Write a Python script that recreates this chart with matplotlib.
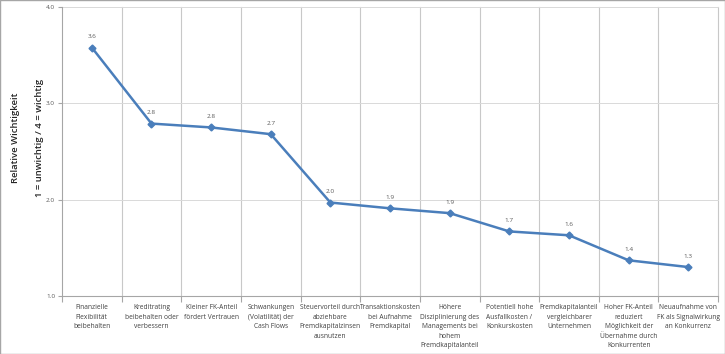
import numpy as np
import matplotlib
matplotlib.use('Agg')
import matplotlib.pyplot as plt

plt.rcParams['font.family'] = ['Open Sans', 'DejaVu Sans']

# categories (wrapped like the original)
CATEGORIES = [
	"Finanzielle\nFlexibilität\nbeibehalten",
	"Kreditrating\nbeibehalten oder\nverbessern",
	"Kleiner FK-Anteil\nfördert Vertrauen",
	"Schwankungen\n(Volatilität) der\nCash Flows",
	"Steuervorteil durch\nabziehbare\nFremdkapitalzinsen\nausnutzen",
	"Transaktionskosten\nbei Aufnahme\nFremdkapital",
	"Höhere\nDisziplinierung des\nManagements bei\nhohem\nFremdkapitalanteil",
	"Potentiell hohe\nAusfallkosten /\nKonkurskosten",
	"Fremdkapitalanteil\nvergleichbarer\nUnternehmen",
	"Hoher FK-Anteil\nreduziert\nMöglichkeit der\nÜbernahme durch\nKonkurrenten",
	"Neuaufnahme von\nFK als Signalwirkung\nan Konkurrenz",
]
VALUES = [3.58, 2.79, 2.75, 2.68, 1.97, 1.91, 1.86, 1.67, 1.63, 1.37, 1.30]
Y_TICKS = [1.0, 2.0, 3.0, 4.0]

LINE_COL = '#4a7ebb'
GRID_COL = '#d9d9d9'
TEXT_COL = '#404040'

fig = plt.figure(figsize=(7.25, 3.54), dpi=100)
ax = fig.add_axes([0.0855, 0.164, 0.905, 0.816])

x = np.arange(len(CATEGORIES))
ax.plot(x, VALUES, color=LINE_COL, lw=1.8, marker='D', ms=3.5, zorder=3)

# data labels
for xi, v in zip(x, VALUES):
	ax.annotate('%.1f' % v, (xi, v), xytext=(0, 6), textcoords='offset points',
		ha='center', va='bottom', fontsize=4.6, color='#595959')

ax.set_xlim(-0.5, len(CATEGORIES) - 0.5)
ax.set_ylim(1.0, 4.0)
ax.set_yticks(Y_TICKS)
ax.set_yticklabels(['%.1f' % t for t in Y_TICKS], fontsize=4.6, color='#595959')
ax.tick_params(axis='y', length=3, color='#a6a6a6', pad=2)

# category separators as vertical gridlines
for b in np.arange(0.5, len(CATEGORIES), 1):
	ax.axvline(b, color='#c8c8c8', lw=0.8, zorder=1, clip_on=False)
for t in Y_TICKS[1:]:
	ax.axhline(t, color=GRID_COL, lw=0.7, zorder=1, clip_on=False)

ax.set_xticks(np.arange(-0.5, len(CATEGORIES), 1), minor=False)
ax.set_xticklabels([])
ax.tick_params(axis='x', length=4, color='#a6a6a6')
ax.set_xticks(x, minor=True)
ax.set_xticklabels(CATEGORIES, minor=True, fontsize=4.8, color=TEXT_COL, linespacing=1.5)
ax.tick_params(axis='x', which='minor', length=0, pad=6)

for s in ['top', 'right']:
	ax.spines[s].set_visible(False)
ax.spines['left'].set_color('#a6a6a6')
ax.spines['bottom'].set_color('#a6a6a6')

# two-line axis title, placed like the original
fig.text(0.021, 0.61, 'Relative Wichtigkeit', rotation=90, ha='center', va='center',
	fontsize=6.8, fontweight='semibold', color='#262626')
fig.text(0.055, 0.61, '1 = unwichtig / 4 = wichtig', rotation=90, ha='center', va='center',
	fontsize=6.8, fontweight='semibold', color='#262626')

# thin outer border
fig.patches.append(plt.Rectangle((0, 0), 1, 1, transform=fig.transFigure,
	fill=False, edgecolor='#a6a6a6', lw=1))

fig.savefig('out.png', dpi=100)
